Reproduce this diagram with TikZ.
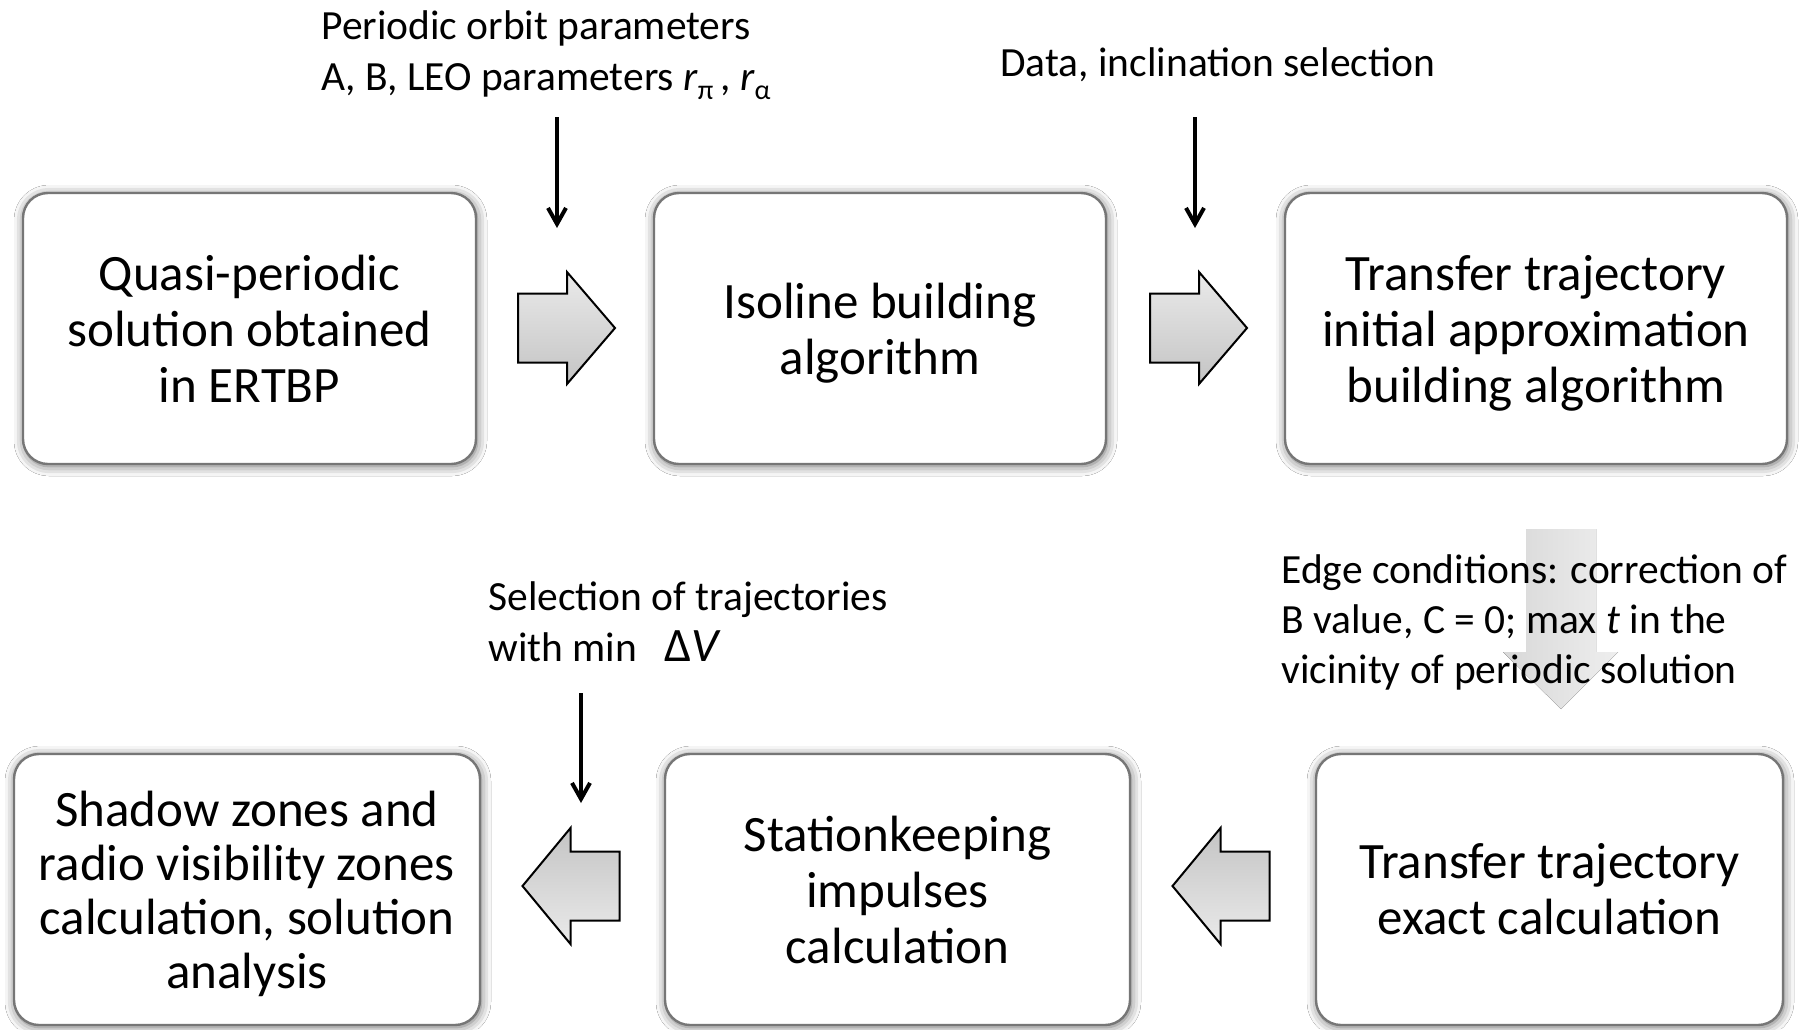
\documentclass[tikz,border=0pt]{standalone}
\usepackage{fontspec}
\setmainfont{Carlito}
\usetikzlibrary{shadows.blur,arrows.meta,calc}
\definecolor{boxborder}{RGB}{118,118,118}
\definecolor{arrLight}{RGB}{234,234,234}
\definecolor{arrDark}{RGB}{196,196,196}
\definecolor{fadeDark}{RGB}{216,216,216}
\definecolor{fadeLight}{RGB}{238,238,238}
\newcommand\boxfont{\fontsize{25.5}{28}\selectfont}
\newcommand\labfont{\fontsize{20.75}{25.5}\selectfont}
\newcommand\lowsub[1]{\raisebox{-0.5ex}{\fontsize{14}{14}\selectfont #1}}
\tikzset{
  stepbox/.style={draw=boxborder, line width=1.2pt, rounded corners=12.5pt,
    fill=white, align=center, font=\boxfont, inner sep=0pt,
    minimum height=135.5pt, minimum width=#1,
    blur shadow={shadow xshift=0.5pt, shadow yshift=-1pt,
      shadow blur radius=5pt, shadow opacity=60}},
  lab/.style={anchor=base west, inner sep=0pt, font=\labfont},
  thinarrow/.style={line width=1.6pt, -{Straight Barb[length=8pt,width=9pt,line width=2pt]}},
  blockright/.pic={
    \draw[line width=1pt, line join=miter, top color=arrLight, bottom color=arrDark]
      (-48.5,-34.5) -- (0.5,-34.5) -- (0.5,-56) -- (48.5,0) -- (0.5,56)
      -- (0.5,34.5) -- (-48.5,34.5) -- cycle;},
  blockleft/.pic={
    \draw[line width=1pt, line join=miter, top color=arrDark, bottom color=arrLight]
      (48.5,-34.5) -- (-0.5,-34.5) -- (-0.5,-58) -- (-48.5,0) -- (-0.5,58)
      -- (-0.5,34.5) -- (48.5,34.5) -- cycle;},
}
\begin{document}
\begin{tikzpicture}[x=0.5pt,y=-0.5pt]
\fill[white] (0,0) rectangle (1810,1029);
\useasboundingbox (0,0) rectangle (1810,1029);

% faded arrow behind edge-conditions text
\fill[left color=fadeDark, right color=fadeLight]
  (1526,529) -- (1596,529) -- (1596,652) -- (1618,652) -- (1561,709)
  -- (1503,652) -- (1526,652) -- cycle;

% boxes
\node[stepbox=226.5pt] (b1) at (249.5,328.5) {Quasi-periodic\\solution obtained\\in ERTBP};
\node[stepbox=226pt] (b2) at (880,328.5) {\raisebox{0pt}[\height][0pt]{Isoline building}\\\raisebox{0pt}[\height][0pt]{algorithm}};
\node[stepbox=251pt] (b3) at (1536,328.5) {Transfer trajectory\\initial approximation\\\raisebox{0pt}[\height][0pt]{building algorithm}};
\node[stepbox=233pt, font=\fontsize{25.5}{27}\selectfont] (b4) at (247,889.5) {Shadow zones and\\radio visibility zones\\calculation, solution\\\raisebox{0pt}[\height][0pt]{analysis}};
\node[stepbox=232.5pt] (b5) at (897.5,889.5) {Stationkeeping\\impulses\\calculation};
\node[stepbox=233.5pt] (b6) at (1549.5,889.5) {Transfer trajectory\\exact calculation};

% block arrows
\pic (ar1) at (566.5,328) {blockright};
\pic (ar2) at (1198.5,328) {blockright};
\pic (ar3) at (571,886) {blockleft};
\pic (ar4) at (1221,886) {blockleft};

% labels
\node[lab] (l1a) at (321,39) {Periodic orbit parameters};
\node[lab] (l1b) at (321,90) {A, B, LEO parameters \textit{r}\lowsub{π}\,, \textit{r}\lowsub{α}};
\node[lab] (l2) at (1000,76) {Data, inclination selection};
\node[lab] (l3a) at (488,610) {Selection of trajectories};
\node[lab] (l3b) at (488,661) {with min\hspace{0.65em}{\fontsize{24}{24}\selectfont Δ\textit{V}}};
\node[lab] (l4a) at (1281,583) {Edge conditions: correction of};
\node[lab] (l4b) at (1281,633) {B value, C = 0; max \textit{t} in the};
\node[lab] (l4c) at (1281,683) {vicinity of periodic solution};

% thin arrows
\coordinate (a1s) at (557,117); \coordinate (a1e) at (557,228);
\coordinate (a2s) at (1195,117); \coordinate (a2e) at (1195,228);
\coordinate (a3s) at (581,693); \coordinate (a3e) at (581,803);
\draw[thinarrow] (a1s) -- (a1e);
\draw[thinarrow] (a2s) -- (a2e);
\draw[thinarrow] (a3s) -- (a3e);
\end{tikzpicture}
\end{document}
